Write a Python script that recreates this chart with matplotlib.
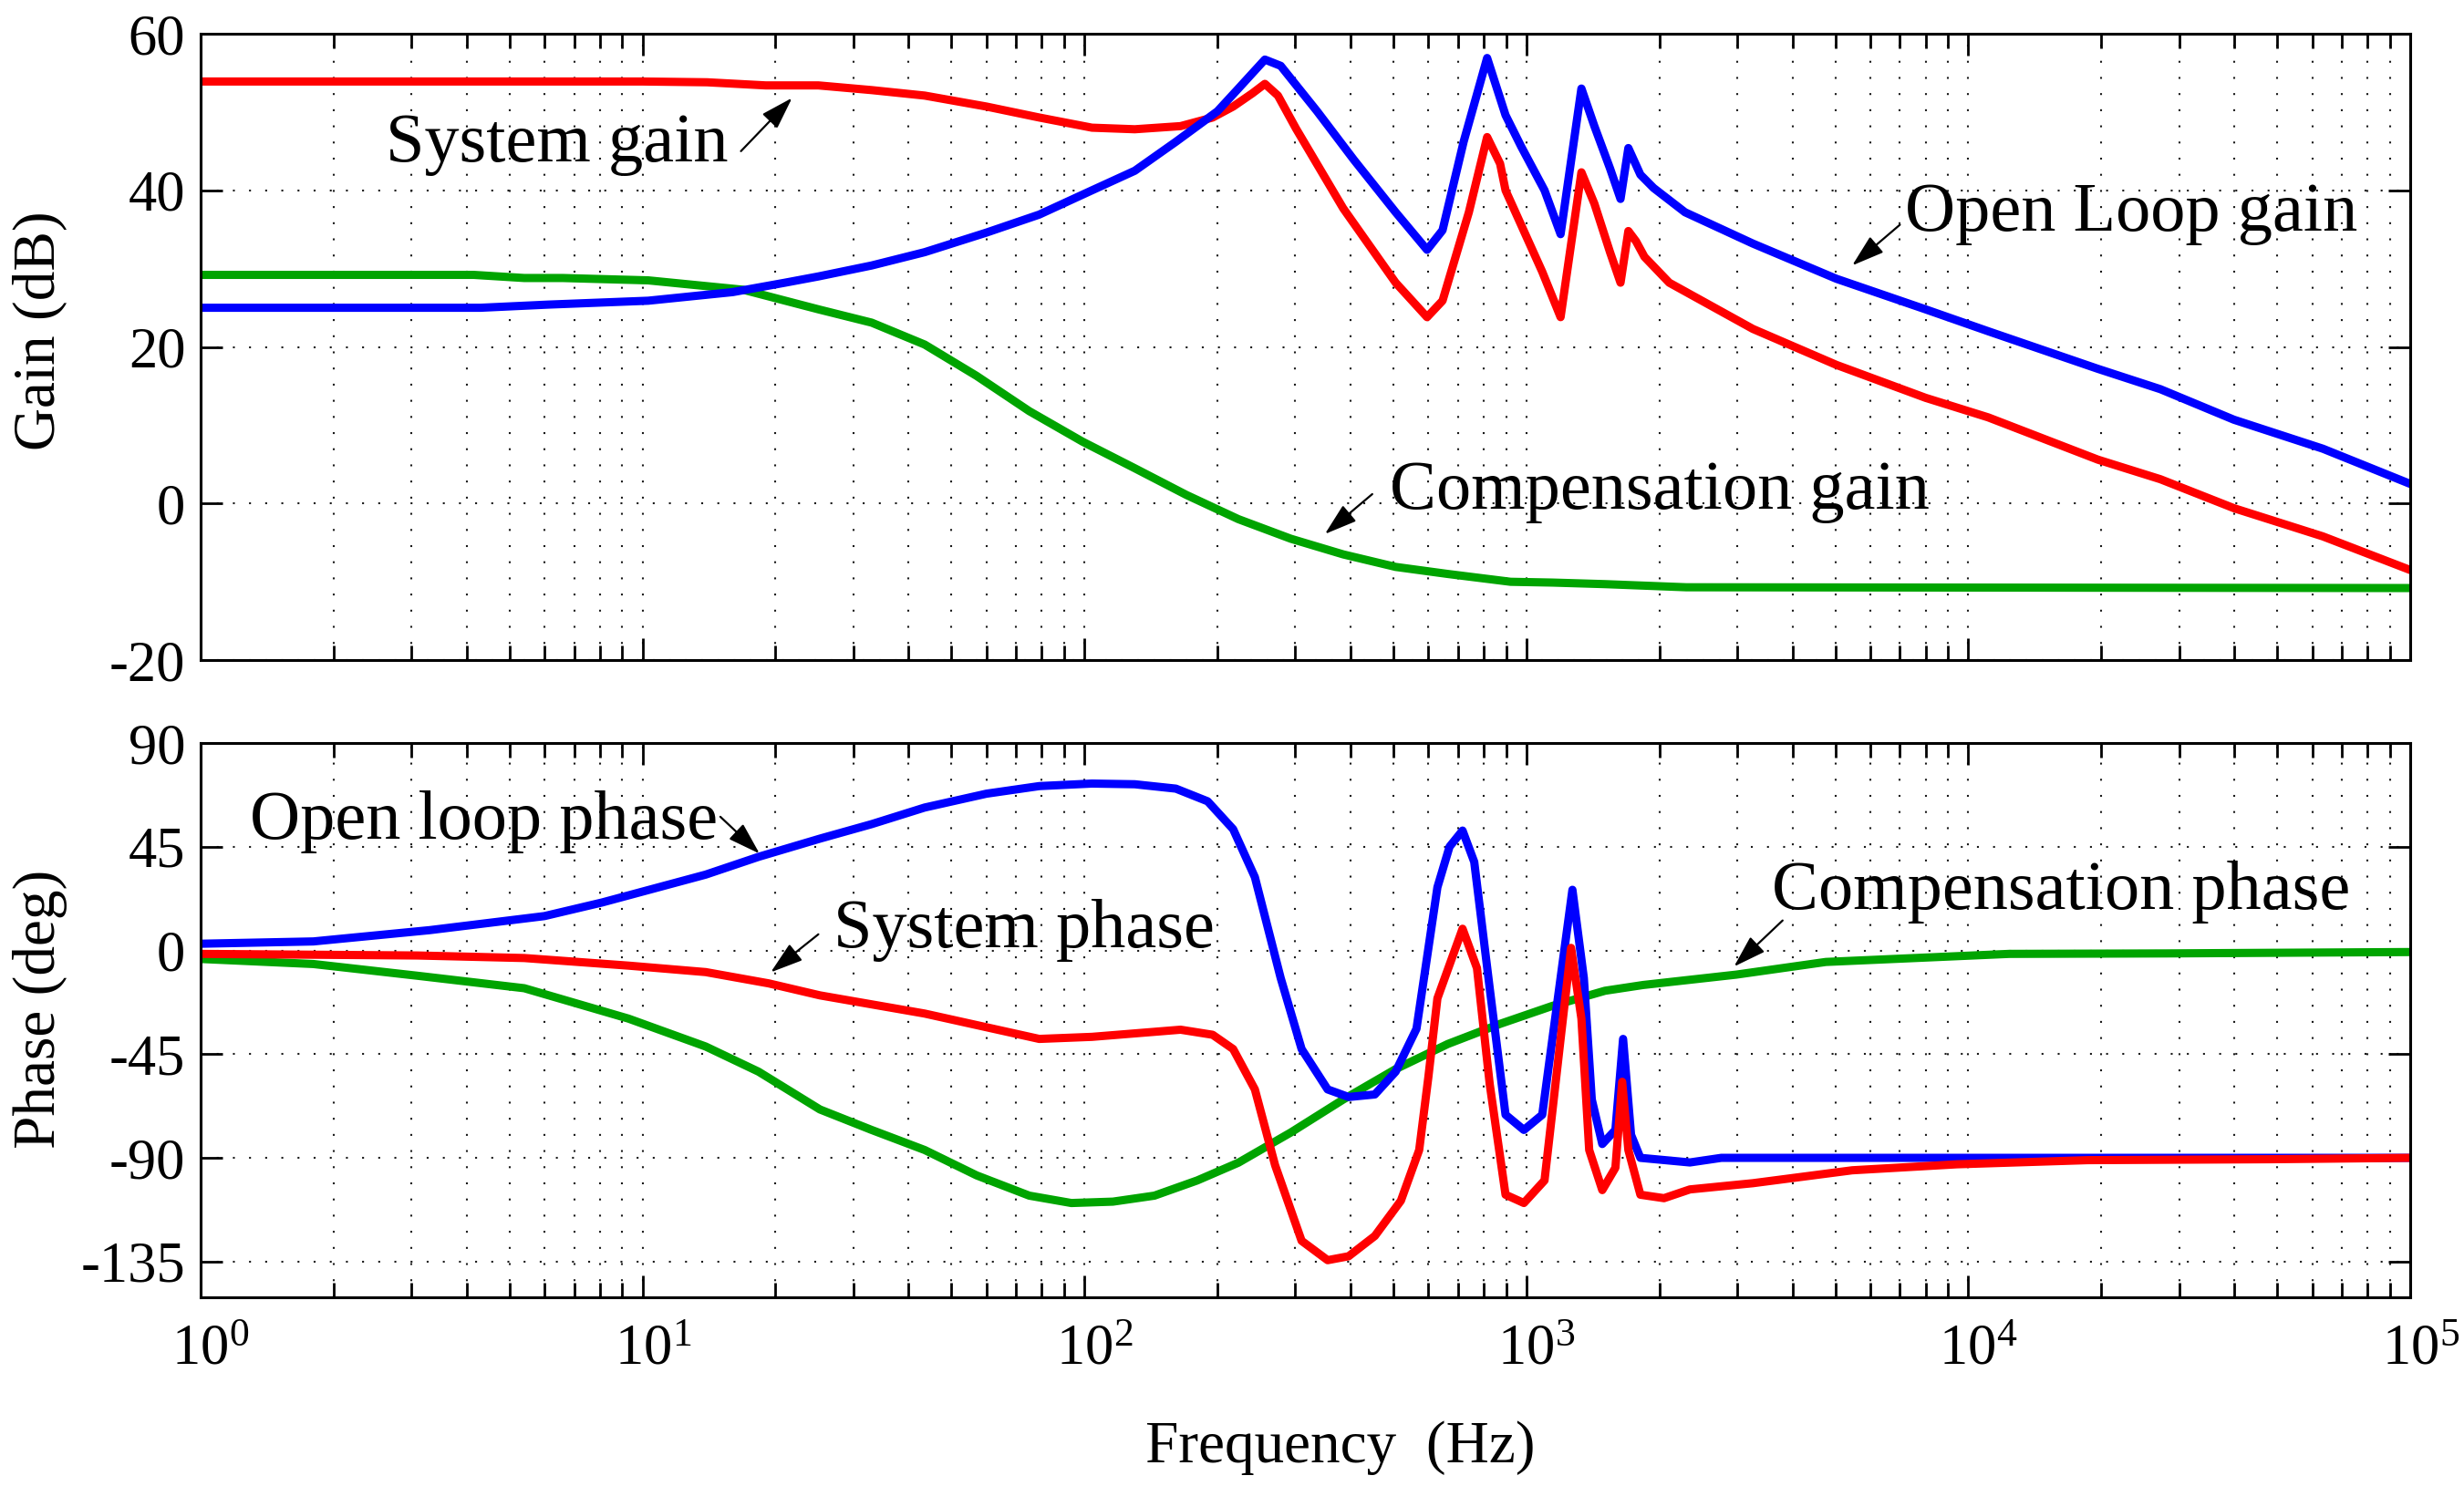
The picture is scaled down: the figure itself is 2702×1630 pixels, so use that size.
import numpy as np
import matplotlib
matplotlib.use('Agg')
import matplotlib.pyplot as plt
from matplotlib.ticker import FixedLocator, NullFormatter
from matplotlib.transforms import ScaledTranslation

plt.rcParams['font.family'] = ['Liberation Serif', 'DejaVu Serif']
plt.rcParams['mathtext.fontset'] = 'custom'
plt.rcParams['mathtext.rm'] = 'Liberation Serif'
plt.rcParams['mathtext.default'] = 'regular'
plt.rcParams['axes.unicode_minus'] = False

# ---------------- data: gain (dB) ----------------
sys_gain_f = [1, 5, 10, 14, 19, 25, 33, 43.5, 60, 79, 104, 130, 165, 195, 217, 240, 256, 274,
              301, 385, 506, 596, 646, 741, 815, 872, 897, 1086, 1195, 1332, 1425, 1546, 1633,
              1701, 1770, 1850, 2105, 3254, 5030, 8000, 11090, 19640, 27200, 39900, 63400, 100000]
sys_gain = [53.9, 53.9, 53.9, 53.8, 53.4, 53.4, 52.8, 52.1, 50.7, 49.3, 48.0, 47.8, 48.2, 49.3,
            50.7, 52.4, 53.6, 52.1, 47.9, 37.7, 28.2, 23.8, 25.9, 37.2, 46.8, 43.4, 40.0, 29.6,
            23.8, 42.3, 38.3, 32.1, 28.2, 34.8, 33.5, 31.5, 28.2, 22.3, 17.7, 13.5, 11.0, 5.6,
            3.1, -0.6, -4.2, -8.5]

ol_gain_f = [1, 4.3, 6.1, 10.3, 16, 21, 25, 33, 43.5, 60, 79, 104, 130, 161, 200, 223, 256, 278,
             336, 407, 506, 596, 646, 721, 815, 897, 973, 1099, 1195, 1332, 1425, 1546, 1633,
             1701, 1811, 1940, 2285, 3254, 5030, 8000, 11090, 19640, 27200, 39900, 63400, 100000]
ol_gain = [25.0, 25.0, 25.4, 25.9, 27.0, 28.2, 29.0, 30.4, 32.1, 34.6, 36.9, 40.0, 42.5, 46.2,
           50.1, 53.0, 56.7, 55.9, 50.1, 43.9, 37.2, 32.4, 34.9, 46.2, 56.9, 49.6, 45.6, 40.0,
           34.4, 53.0, 48.2, 42.8, 38.9, 45.4, 42.0, 40.3, 37.2, 33.2, 28.7, 24.8, 22.0, 17.2,
           14.6, 10.7, 7.0, 2.5]

comp_gain_f = [1, 4.15, 5.4, 6.6, 10.3, 16.9, 25, 33, 43.5, 57, 75, 99, 130, 170, 223, 293, 385,
               506, 664, 921, 1146, 1506, 2300, 100000]
comp_gain = [29.2, 29.2, 28.8, 28.8, 28.5, 27.3, 24.8, 23.1, 20.3, 16.3, 11.8, 7.9, 4.5, 1.1,
             -2.0, -4.5, -6.5, -8.1, -9.0, -10.0, -10.1, -10.3, -10.7, -10.8]

# ---------------- data: phase (deg) ----------------
ol_phase_f = [1, 1.8, 3.3, 6, 8.1, 13.9, 18.3, 25.2, 33, 43.5, 60, 79, 104, 130, 161, 190, 217,
              243, 278, 310, 355, 396, 454, 506, 564, 629, 670, 717, 762, 826, 897, 987, 1086,
              1178, 1271, 1349, 1406, 1485, 1590, 1655, 1725, 1811, 2344, 2761, 100000]
ol_phase = [2.9, 3.9, 8.8, 14.9, 20.8, 32.9, 40.6, 48.5, 54.8, 62, 68, 71.3, 72.4, 72.1, 70.2,
            64.7, 52.6, 31.8, -12, -42.8, -60.3, -63.6, -62.5, -52.6, -34, 27.4, 45, 52, 38.4,
            -16.4, -71.3, -77.9, -71.3, -20.8, 26.3, -12, -64.7, -84, -77.9, -38.4, -80, -90,
            -92, -90, -90]

sys_phase_f = [1, 3.1, 5.4, 9.3, 13.9, 19.3, 25.2, 43.5, 79, 104, 165, 195, 217, 243, 270, 310,
               355, 396, 454, 520, 572, 600, 629, 717, 773, 826, 897, 987, 1099, 1195, 1262,
               1332, 1387, 1485, 1590, 1647, 1701, 1811, 2048, 2344, 3254, 5460, 9420, 18620,
               48300, 100000]
sys_phase = [-1.5, -2.2, -3.3, -6.6, -9.4, -14.3, -19.5, -27.4, -38.4, -37.5, -34.4, -36.6,
             -42.8, -60.3, -93.2, -126, -134.4, -132.7, -123.9, -108.6, -86.6, -55, -20.8, 9.4,
             -7.7, -58, -106, -109.6, -99.8, -38.4, 1.1, -29.6, -86.6, -104, -94.3, -57, -86.6,
             -106, -107.5, -103.7, -101, -95.4, -92.8, -91, -90.6, -90]

comp_phase_f = [1, 1.8, 3.1, 5.4, 9.3, 13.9, 18.3, 25.2, 33, 43.5, 57, 75, 93.4, 116, 144, 180,
                223, 293, 385, 506, 664, 874, 1144, 1506, 1837, 2985, 4760, 7570, 12370, 27980,
                100000]
comp_phase = [-3.7, -5.9, -11, -16.4, -29.6, -41.7, -52.6, -69, -77.9, -86.6, -97.6, -106.4,
              -109.6, -109, -106.4, -99.8, -92.1, -79, -64.7, -51.5, -40.6, -31.8, -24.1, -17.5,
              -15, -10.5, -5, -3.3, -1.5, -1.3, -0.7]

gain_ticks = [-20, 0, 20, 40, 60]
gain_ticklabels = ['-20', '0', '20', '40', '60']
phase_ticks = [-135, -90, -45, 0, 45, 90]
phase_ticklabels = ['-135', '-90', '-45', '0', '45', '90']
decades = [1, 10, 100, 1000, 10000, 100000]
decade_labels = [r'$10^{0}$', r'$10^{1}$', r'$10^{2}$', r'$10^{3}$', r'$10^{4}$', r'$10^{5}$']

RED = '#ff0000'
BLUE = '#0000ff'
GREEN = '#00a400'

fig = plt.figure(figsize=(27.02, 16.30), dpi=100)
ax1 = fig.add_axes([0.0814, 0.5558, 0.8968, 0.4215])
ax2 = fig.add_axes([0.0814, 0.1270, 0.8968, 0.3730])

minor_locs = [m * d for d in decades[:-1] for m in range(2, 10)]
grid_style = dict(linestyle=(0, (1, 7.5)), color='0.1', linewidth=1.5)

for ax in (ax1, ax2):
    ax.set_xscale('log')
    ax.set_xlim(1, 1e5)
    ax.xaxis.set_major_locator(FixedLocator(decades))
    ax.xaxis.set_minor_locator(FixedLocator(minor_locs))
    ax.xaxis.set_minor_formatter(NullFormatter())
    ax.tick_params(which='both', direction='in', top=True, right=True, width=2, colors='k')
    ax.tick_params(which='major', length=17, labelsize=45, pad=12)
    ax.tick_params(which='minor', length=11.5)
    ax.grid(True, which='major', axis='both', **grid_style)
    ax.grid(True, which='minor', axis='x', **grid_style)
    ax.set_axisbelow(True)
    for s in ax.spines.values():
        s.set_linewidth(2.2)

lw = 6.5
style = dict(lw=lw, solid_capstyle='round', solid_joinstyle='round')
ax1.plot(comp_gain_f, comp_gain, color=GREEN, **style)
ax1.plot(sys_gain_f, sys_gain, color=RED, **style)
ax1.plot(ol_gain_f, ol_gain, color=BLUE, **style)
ax1.set_ylim(-20, 60)
ax1.set_yticks(gain_ticks)
ax1.set_yticklabels(gain_ticklabels)
ax1.set_xticklabels([])

ax2.plot(comp_phase_f, comp_phase, color=GREEN, **style)
ax2.plot(ol_phase_f, ol_phase, color=BLUE, **style)
ax2.plot(sys_phase_f, sys_phase, color=RED, **style)
ax2.set_ylim(-150.5, 90)
ax2.set_yticks(phase_ticks)
ax2.set_yticklabels(phase_ticklabels)
ax2.set_xticklabels(decade_labels)
ax2.tick_params(axis='x', which='major', pad=21)
shift = ScaledTranslation(8 / 72, 0, fig.dpi_scale_trans)
for lab in ax2.get_xticklabels():
    lab.set_transform(lab.get_transform() + shift)

ann_fs = 55
arrow = dict(arrowstyle='-|>,head_length=1.1,head_width=0.35', color='k', lw=1.6,
             shrinkA=0, shrinkB=0, mutation_scale=20)

ax1.text(2.62, 43.7, 'System gain', fontsize=ann_fs, ha='left', va='baseline')
ax1.annotate('', xy=(21.8, 51.8), xytext=(16.7, 45.0), arrowprops=arrow)
ax1.text(7190, 34.8, 'Open Loop gain', fontsize=ann_fs, ha='left', va='baseline')
ax1.annotate('', xy=(5460, 30.4), xytext=(7000, 35.6), arrowprops=arrow)
ax1.text(490, -0.7, 'Compensation gain', fontsize=ann_fs, ha='left', va='baseline')
ax1.annotate('', xy=(350, -3.9), xytext=(448, 1.2), arrowprops=arrow)

ax2.text(1.29, 48.5, 'Open loop phase', fontsize=ann_fs, ha='left', va='baseline')
ax2.annotate('', xy=(18.4, 42), xytext=(15.0, 58), arrowprops=arrow)
ax2.text(27, 1.2, 'System phase', fontsize=ann_fs, ha='left', va='baseline')
ax2.annotate('', xy=(19.5, -9.5), xytext=(25, 7), arrowprops=arrow)
ax2.text(3600, 18, 'Compensation phase', fontsize=ann_fs, ha='left', va='baseline')
ax2.annotate('', xy=(2950, -7), xytext=(3800, 13), arrowprops=arrow)

fig.text(44.5 / 2702, 1 - 363 / 1630, 'Gain (dB)', fontsize=47, rotation=90, ha='center', va='center')
fig.text(44.5 / 2702, 1 - 1107 / 1630, 'Phase (deg)', fontsize=47, rotation=90, ha='center', va='center')
fig.text(1470 / 2702, 1 - 1588 / 1630, 'Frequency  (Hz)', fontsize=47, ha='center', va='center')

fig.savefig('out.png', dpi=100)
